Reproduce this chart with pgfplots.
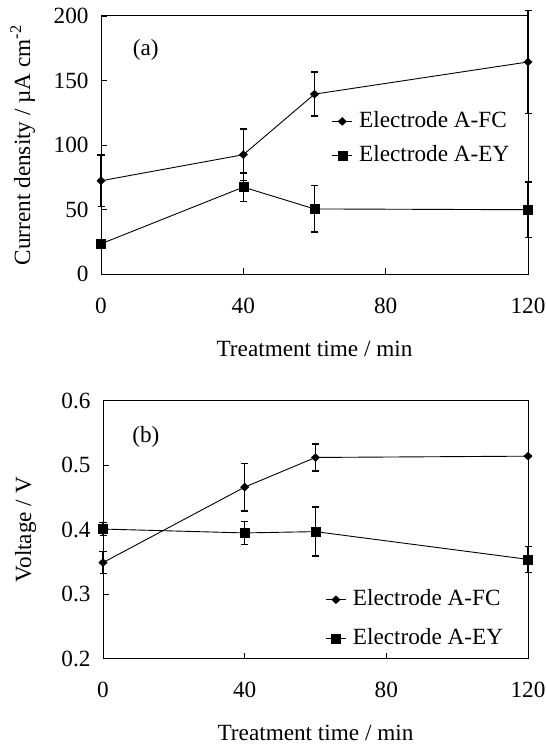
\documentclass[border=0pt]{standalone}
\usepackage{fontspec}
\setmainfont{Liberation Serif}
\usepackage{pgfplots}
\pgfplotsset{compat=1.18}
\begin{document}
\begin{tikzpicture}[font=\fontsize{23.3}{27}\selectfont]
\useasboundingbox (0bp,0bp) rectangle (546bp,746bp);
\pgfplotsset{
  myax/.style={
    scale only axis,
    axis line style={line width=1bp},
    tick pos=left,
    tick align=inside,
    major tick length=6bp,
    every tick/.style={black, line width=0.9bp},
    /pgf/number format/assume math mode=true,
    xmin=0, xmax=120,
    xtick={0,40,80,120},
    clip=false,
    yticklabel style={xshift=-9bp},
    xticklabel style={yshift=-20bp},
    legend style={draw=none, fill=none, inner sep=0pt, column sep=5bp,
      nodes={text height=16bp, text depth=4bp, inner sep=1.5bp}},
    legend cell align=left,
    legend image code/.code={\draw[mark repeat=2,mark phase=2,##1] plot coordinates {(0bp,0bp)(10bp,0bp)(20bp,0bp)};},
    error bars/y dir=both,
    error bars/y explicit,
    error bars/error bar style={line width=1.6bp},
    error bars/error mark options={rotate=90, mark size=3.5bp, line width=1.4bp},
  },
  fc/.style={black, line width=0.9bp, mark=diamond*, mark size=4bp, mark options={solid, xscale=1.4, line width=0.4bp}},
  ey/.style={black, line width=0.9bp, mark=square*, mark size=4.5bp, mark options={solid, line width=0.4bp}},
}
% Panel (a)
\begin{axis}[myax,
  at={(101bp,471.7bp)}, anchor=south west,
  width=427bp, height=258.3bp,
  ymin=0, ymax=200, ytick={0,50,100,150,200},
  xlabel={Treatment time / min},
  xlabel style={at={(axis description cs:0.5,-0.289)}, anchor=center},
  ylabel={Current density / µA cm\textsuperscript{-2}},
  ylabel style={at={(axis description cs:-0.183,0.5)}, anchor=center},
  legend style={at={(0.54,0.526)}, anchor=west, row sep=11bp},
]
\addplot[fc] coordinates {(0,72.4) +- (0,20) (40,92.6) +- (0,20) (60,139.5) +- (0,17) (120,164.4) +- (0,40)};
\addlegendentry{Electrode A-FC}
\addplot[ey] coordinates {(0,23.6) +- (0,0) (40,67.5) +- (0,11) (60,50.6) +- (0,18) (120,50) +- (0,21.5)};
\addlegendentry{Electrode A-EY}
\node at (rel axis cs:0.105,0.868) {(a)};
\end{axis}
% Panel (b)
\begin{axis}[myax,
  at={(103bp,87.3bp)}, anchor=south west,
  width=425bp, height=258bp,
  ymin=0.2, ymax=0.6, ytick={0.2,0.3,0.4,0.5,0.6},
  yticklabel style={/pgf/number format/.cd, fixed, fixed zerofill, precision=1},
  xlabel={Treatment time / min},
  xlabel style={at={(axis description cs:0.5,-0.288)}, anchor=center},
  ylabel={Voltage / V},
  ylabel style={at={(axis description cs:-0.182,0.5)}, anchor=center},
  legend style={at={(0.523,0.154)}, anchor=west, row sep=15.5bp},
]
\addplot[fc] coordinates {(0,0.349) +- (0,0.017) (40,0.466) +- (0,0.037) (60,0.512) +- (0,0.021) (120,0.514) +- (0,0)};
\addlegendentry{Electrode A-FC}
\addplot[ey] coordinates {(0,0.401) +- (0,0.01) (40,0.395) +- (0,0.018) (60,0.397) +- (0,0.038) (120,0.354) +- (0,0.02)};
\addlegendentry{Electrode A-EY}
\node at (rel axis cs:0.101,0.86) {(b)};
\end{axis}
\end{tikzpicture}
\end{document}
